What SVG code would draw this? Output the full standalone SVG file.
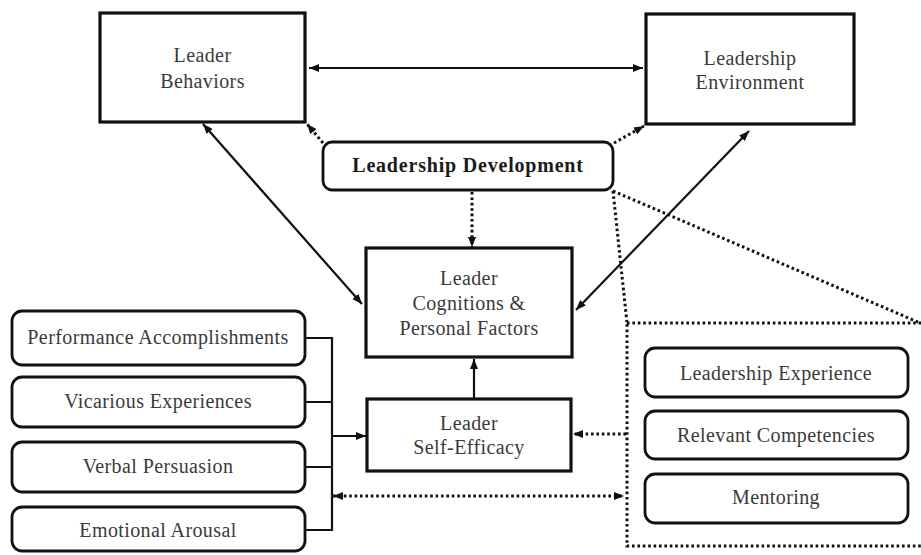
<svg xmlns="http://www.w3.org/2000/svg" width="921" height="555" viewBox="0 0 921 555">
<style>
.box{fill:#fff;stroke:#111;stroke-width:3.2}
.rbox{fill:#fff;stroke:#111;stroke-width:2.8}
.t{font-family:"Liberation Serif","Times New Roman",serif;font-size:20px;fill:#3a3a3a;text-anchor:middle;letter-spacing:0.4px}
.tb{font-family:"Liberation Serif","Times New Roman",serif;font-size:20px;font-weight:bold;fill:#1a1a1a;text-anchor:middle;letter-spacing:0.8px}
.ln{fill:none;stroke:#111;stroke-width:2.2}
.dot{fill:none;stroke:#111;stroke-width:3;stroke-dasharray:2.6 2.8}
</style>
<defs>
<marker id="ah" viewBox="0 0 10 8" refX="10" refY="4" markerWidth="10" markerHeight="8" markerUnits="userSpaceOnUse" orient="auto-start-reverse"><path d="M0,0 L10,4 L0,8 z" fill="#111"/></marker>
</defs>
<g id="connectors">
<line class="ln" x1="309" y1="68" x2="643" y2="68" marker-start="url(#ah)" marker-end="url(#ah)"/>
<line class="ln" x1="203" y1="124" x2="362" y2="304" marker-start="url(#ah)" marker-end="url(#ah)"/>
<line class="ln" x1="749" y1="131" x2="576" y2="310" marker-start="url(#ah)" marker-end="url(#ah)"/>
<line class="ln" x1="474" y1="399" x2="474" y2="359" marker-end="url(#ah)"/>
<line class="dot" x1="472" y1="192" x2="472" y2="247" marker-end="url(#ah)"/>
<line class="dot" x1="323" y1="143" x2="307" y2="124" marker-end="url(#ah)"/>
<line class="dot" x1="614" y1="143" x2="644" y2="126" marker-end="url(#ah)"/>
<line class="dot" x1="613" y1="191" x2="920" y2="323"/>
<line class="dot" x1="613" y1="191" x2="627" y2="323"/>
<line class="dot" x1="626" y1="434" x2="573" y2="434" marker-end="url(#ah)"/>
<path class="ln" d="M305,338 H332 M305,402 H332 M305,467 H332 M305,530 H332 M332,337 V531"/>
<line class="ln" x1="332" y1="436" x2="366" y2="436" marker-end="url(#ah)"/>
<line class="dot" x1="333" y1="496" x2="624" y2="496" marker-start="url(#ah)" marker-end="url(#ah)"/>
</g>
<g id="dev-group">
<rect class="dot" x="627" y="323" width="300" height="223"/>
</g>
<g id="leader-behaviors">
<rect class="box" x="100" y="13" width="205" height="109"/>
<text class="t" x="202.5" y="62">Leader</text>
<text class="t" x="202.5" y="88">Behaviors</text>
</g>
<g id="leadership-environment">
<rect class="box" x="646" y="14" width="208" height="110"/>
<text class="t" x="750" y="65">Leadership</text>
<text class="t" x="750" y="89">Environment</text>
</g>
<g id="leadership-development">
<rect class="rbox" x="323" y="142" width="290" height="48" rx="9"/>
<text class="tb" x="468" y="172">Leadership Development</text>
</g>
<g id="leader-cognitions">
<rect class="box" x="366" y="248" width="206" height="109"/>
<text class="t" x="469" y="285">Leader</text>
<text class="t" x="469" y="310">Cognitions &amp;</text>
<text class="t" x="469" y="335">Personal Factors</text>
</g>
<g id="leader-self-efficacy">
<rect class="box" x="367" y="399" width="204" height="72"/>
<text class="t" x="469" y="430">Leader</text>
<text class="t" x="469" y="454">Self-Efficacy</text>
</g>
<g id="performance-accomplishments">
<rect class="rbox" x="12" y="311" width="293" height="54" rx="10"/>
<text class="t" x="158" y="344">Performance Accomplishments</text>
</g>
<g id="vicarious-experiences">
<rect class="rbox" x="12" y="377" width="293" height="50" rx="10"/>
<text class="t" x="158" y="408">Vicarious Experiences</text>
</g>
<g id="verbal-persuasion">
<rect class="rbox" x="12" y="442" width="293" height="50" rx="10"/>
<text class="t" x="158" y="473">Verbal Persuasion</text>
</g>
<g id="emotional-arousal">
<rect class="rbox" x="12" y="507" width="293" height="44" rx="10"/>
<text class="t" x="158" y="537">Emotional Arousal</text>
</g>
<g id="leadership-experience">
<rect class="rbox" x="645" y="348" width="263" height="49" rx="10"/>
<text class="t" x="776" y="380">Leadership Experience</text>
</g>
<g id="relevant-competencies">
<rect class="rbox" x="645" y="411" width="263" height="48" rx="10"/>
<text class="t" x="776" y="442">Relevant Competencies</text>
</g>
<g id="mentoring">
<rect class="rbox" x="645" y="474" width="263" height="49" rx="10"/>
<text class="t" x="776" y="504">Mentoring</text>
</g>
</svg>
